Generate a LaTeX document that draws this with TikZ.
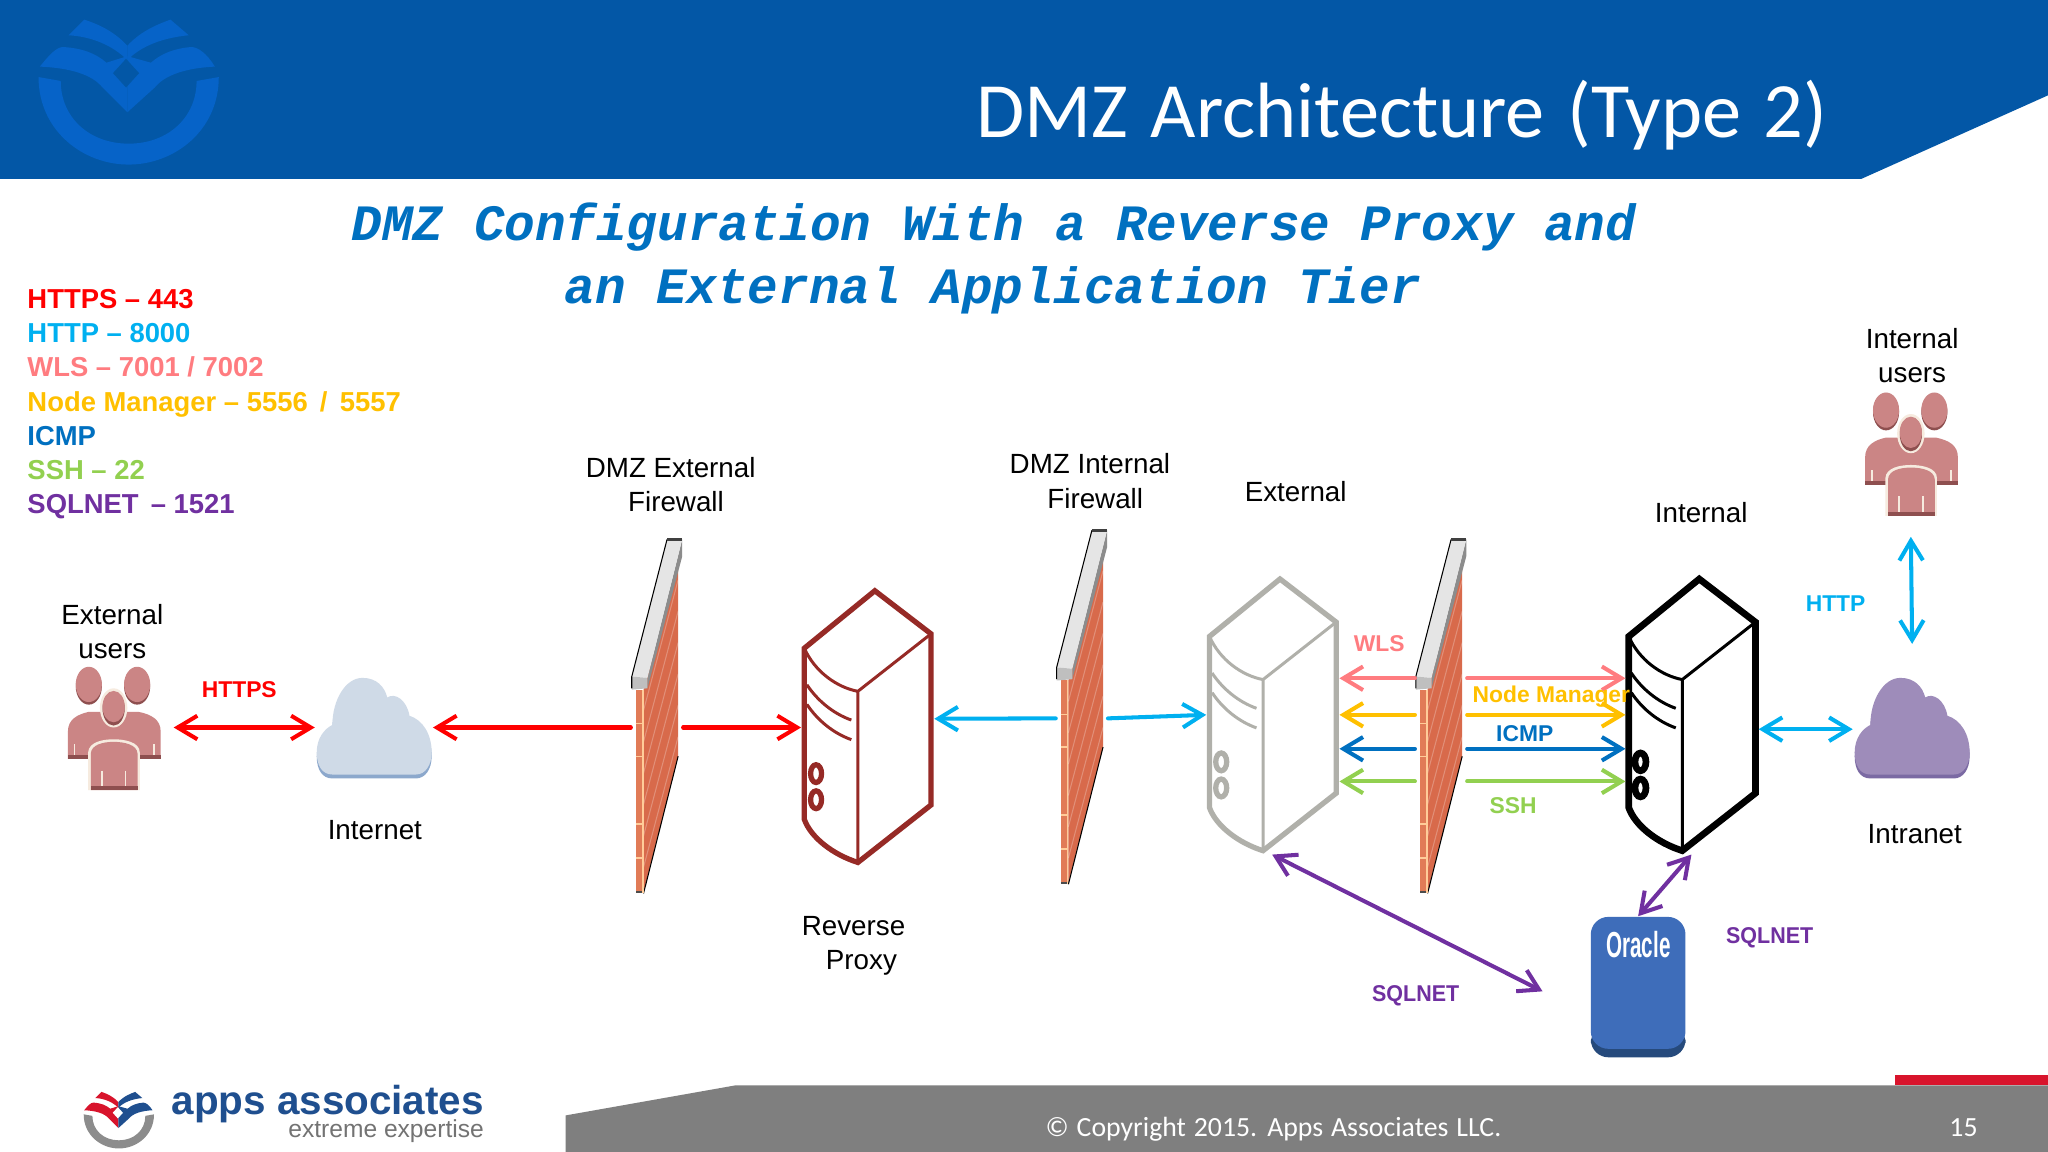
\documentclass[tikz,border=0pt]{standalone}
\usepackage{fontspec}
\setmainfont{Liberation Sans}
\setmonofont{Liberation Mono}
\newfontfamily\slidefont[WordSpace = 1.27]{Carlito}
\usetikzlibrary{arrows.meta}

\definecolor{headblue}{HTML}{0357A6}
\definecolor{markblue}{HTML}{0663C8}
\definecolor{httpsred}{HTML}{FF0000}
\definecolor{httpcyan}{HTML}{00B0F0}
\definecolor{wlspink}{HTML}{FF7C80}
\definecolor{nmgold}{HTML}{FFC000}
\definecolor{icmpblue}{HTML}{0070C0}
\definecolor{sshgreen}{HTML}{92D050}
\definecolor{sqlpurple}{HTML}{7030A0}
\definecolor{footgray}{HTML}{7F7F7F}
\definecolor{brickside}{HTML}{D86A4B}
\definecolor{brickfront}{HTML}{E17B57}
\definecolor{usrskin}{HTML}{CB8585}
\definecolor{usrdark}{HTML}{8E4F4F}
\definecolor{usrgap}{HTML}{F6EBDF}
\definecolor{netfill}{HTML}{CFDAE7}
\definecolor{netedge}{HTML}{8CA8CC}
\definecolor{lanfill}{HTML}{9E8CBA}
\definecolor{lanedge}{HTML}{7B6AA3}
\definecolor{dbfill}{HTML}{3E6DBA}
\definecolor{dbedge}{HTML}{264A7C}
\definecolor{srvred}{HTML}{962A26}
\definecolor{srvgray}{HTML}{B0B0AA}
\definecolor{brandblue}{HTML}{1F4F8F}
\definecolor{brandred}{HTML}{D8142C}

\tikzset{
    lbl/.style = {inner sep = 0, anchor = base, align = center,
        font = \fontsize{7.9}{9.7}\selectfont},
    tag/.style = {inner sep = 0, anchor = base west,
        font = \fontsize{6.5}{8}\selectfont\bfseries},
    legend/.style = {inner sep = 0, anchor = base west,
        font = \fontsize{7.8}{9.7}\selectfont\bfseries},
    link/.style = {line width = 1.15pt, line cap = round,
        {Straight Barb[length = 5.6pt, width = 6.7pt]}-{Straight Barb[length = 5.6pt, width = 6.7pt]}},
    linkin/.style = {line width = 1.15pt, line cap = round,
        -{Straight Barb[length = 5.6pt, width = 6.7pt]}},
    linkout/.style = {line width = 1.15pt, line cap = round,
        {Straight Barb[length = 5.6pt, width = 6.7pt]}-},
    pics/firewall/.style = {code = {
        \fill[brickside] (6, -1) -- (6, -156) -- (32.5, -248) -- (32.5, -105) -- cycle;
        \fill[brickfront] (0, 0) rectangle (6, -156);
        \fill[black!70] (0, 0) rectangle (6, -2);
        \draw[black, line width = .3pt] (6, 0) -- (32.5, -105);
        \foreach \s in {20, 44, ..., 140}
            \draw[white, opacity = .25, line width = .3pt] (6, -\s) -- (32.5, -\s - 100);
        \draw[orange!40, line width = .4pt] (5.5, 0) -- (5.5, -156);
        \foreach \s in {27, 53, 105, 130}
            \draw[orange!40, line width = .4pt] (0, -\s) -- (5.5, -\s);
        \fill[black!45] (9, -157) -- (9, -165) -- (35.6, -271) -- (35.6, -258) -- cycle;
        \fill[black!10] (-3, -166) -- (24, -271) -- (35.6, -271) -- (9, -165) -- cycle;
        \fill[black!25] (-3, -166) -- (9, -165) -- (9, -157) -- (-3, -156) -- cycle;
        \draw[black, line width = .3pt] (-3, -157) -- (-3, -166) -- (24, -271);
        \draw[black!75, line width = .9pt] (24, -271) -- (35.6, -271);
        \coordinate (-l) at (-3.7, -127);
        \coordinate (-r) at (36.3, -127);
    }},
    pics/server/.style 2 args = {code = {
        \draw[#1, line width = #2, line join = miter] (0, 0) -- (54, -44) -- (97, -11)
            -- (97, 120) -- (41, 164) .. controls (22, 158) and (5, 145) .. (0, 131) -- cycle;
        \draw[#1, line width = .85pt] (0, 0) .. controls (8, 18) and (25, 30) .. (41, 33)
            -- (41, 164) (41, 33) -- (97, -11);
        \draw[#1, line width = .85pt] (2, 28) .. controls (10, 40) and (22, 50) .. (36, 55);
        \draw[#1, line width = .85pt] (2, 43) .. controls (10, 55) and (22, 65) .. (36, 70);
        \draw[#1, line width = #2] (9, 96) ellipse (4.2 and 6.8);
        \draw[#1, line width = #2] (9, 116) ellipse (4.2 and 6.8);
        \foreach \n/\y in {1/32, 2/60, 3/86, 4/111, 5/54, 6/71} {
            \coordinate (-e\n) at (99.5, \y);
            \coordinate (-w\n) at (-2.5, \y);
        }
        \coordinate (-b) at (48, 167);
    }},
    pics/cloud/.style 2 args = {code = {
        \foreach \c/\d in {#2/0, #1/-3}
            \fill[\c] (12, \d) .. controls (4, \d) and (0, -7 + \d) .. (0, -17 + \d)
                .. controls (0, -28 + \d) and (6, -35 + \d) .. (12, -38 + \d)
                .. controls (12, -57 + \d) and (22, -74 + \d) .. (35, -74 + \d)
                .. controls (46, -74 + \d) and (52, -67 + \d) .. (54, -59 + \d)
                .. controls (60, -63 + \d) and (69, -57 + \d) .. (71, -45 + \d)
                .. controls (81, -42 + \d) and (88, -31 + \d) .. (88, -17 + \d)
                .. controls (88, -7 + \d) and (83, \d) .. (76, \d) -- cycle;
        \coordinate (-w) at (-1.5, -39);
        \coordinate (-e) at (89, -39);
        \coordinate (-n) at (44, -103);
    }},
    pics/usergroup/.style = {code = {
        %% back row
        \fill[usrskin] (1, 71) -- (1, 50) .. controls (1, 41) and (8, 37) .. (17, 35) -- (55, 35)
            .. controls (65, 37) and (72, 41) .. (72, 50) -- (72, 71) -- cycle;
        \fill[usrdark] (1, 68) rectangle (72, 71);
        \foreach \x in {17, 54} {
            \fill[usrdark] (\x, 15.5) ellipse (10 and 14);
            \fill[usrskin] (\x, 14) ellipse (10 and 13.5);
        }
        %% front person
        \fill[usrgap] (36, 32) ellipse (10.5 and 15);
        \fill[usrdark] (36, 32.5) ellipse (8.5 and 13);
        \fill[usrskin] (36, 31) ellipse (8.5 and 12);
        \fill[usrgap] (16.5, 95) -- (16.5, 66) .. controls (17, 58) and (28, 56) .. (36, 56)
            .. controls (44, 56) and (56, 58) .. (56, 66) -- (56, 95) -- cycle;
        \fill[usrskin] (18.5, 95) -- (18.5, 67) .. controls (19, 60) and (28, 58) .. (36, 58)
            .. controls (44, 58) and (54, 60) .. (54.3, 67) -- (54.3, 95) -- cycle;
        \fill[usrdark] (18.5, 92) rectangle (54.3, 95);
        \draw[usrgap, line width = .5pt] (27, 80) -- (27, 92) (45, 80) -- (45, 92)
            (6, 60) -- (6, 68) (67, 60) -- (67, 68);
        \coordinate (-e) at (82, 47);
        \coordinate (-s) at (36, 111);
    }},
    pics/logomark/.style n args = {4}{code = {
        \fill[#3] (-69, 44) .. controls (-69, 85) and (-35, 111) .. (0, 111)
            .. controls (35, 111) and (69, 85) .. (69, 44) -- (52, 47)
            .. controls (52, 75) and (30, 95) .. (0, 95)
            .. controls (-30, 95) and (-52, 75) .. (-52, 47) -- cycle;
        \fill[#1] (-68, 36) .. controls (-60, 26) and (-55, 21) .. (-50, 21)
            .. controls (-35, 22) and (-25, 26) .. (-17, 33) -- (-1, 28) -- (-1, 71) -- (-20, 52)
            .. controls (-28, 42) and (-45, 37) .. (-68, 36) -- cycle;
        \fill[#2] (66, 36) .. controls (60, 26) and (53, 21) .. (48, 21)
            .. controls (35, 22) and (25, 26) .. (17, 33) -- (-1, 28) -- (-1, 71) -- (20, 52)
            .. controls (28, 42) and (45, 37) .. (66, 36) -- cycle;
        \fill[#1] (-46, 12) -- (-34, 0) .. controls (-25, 3) and (-12, 8) .. (-1, 20)
            -- (-1, 31) .. controls (-12, 20) and (-28, 13) .. (-46, 12) -- cycle;
        \fill[#2] (46, 12) -- (32, 0) .. controls (24, 3) and (10, 8) .. (-1, 20)
            -- (-1, 31) .. controls (10, 20) and (26, 14) .. (46, 12) -- cycle;
        \fill[#4] (-2, 30) -- (8, 41) -- (-2, 52) -- (-12, 41) -- cycle;
    }},
}

\begin{document}
\begin{tikzpicture}[x = 0.013061cm, y = -0.013061cm]
    \useasboundingbox (0, 0) rectangle (1568, 882);
    \fill[white] (0, 0) rectangle (1568, 882);

    %% header
    \fill[headblue] (0, 0) -- (1568, 0) -- (1568, 73) -- (1425, 137) -- (0, 137) -- cycle;
    \pic at (98.5, 15) {logomark={markblue}{markblue}{markblue}{headblue}};
    \node (title) [inner sep = 0, anchor = base west, text = white,
        font = \slidefont\fontsize{22.3}{28}\selectfont] at (747, 105) {DMZ Architecture (Type 2)};

    %% subtitle
    \node (subA) [inner sep = 0, anchor = base, text = icmpblue,
        font = \ttfamily\bfseries\itshape\fontsize{14.5}{17}\selectfont] at (761, 184)
        {DMZ Configuration With a Reverse Proxy and};
    \node (subB) [inner sep = 0, anchor = base, text = icmpblue,
        font = \ttfamily\bfseries\itshape\fontsize{14.5}{17}\selectfont] at (760, 232)
        {an External Application Tier};

    %% legend
    \node (legA) [legend, text = httpsred] at (20.5, 236) {HTTPS – 443};
    \node (legB) [legend, text = httpcyan] at (20.5, 262) {HTTP – 8000};
    \node (legC) [legend, text = wlspink] at (20.5, 288) {WLS – 7001 / 7002};
    \node (legD) [legend, text = nmgold] at (20.5, 315) {Node Manager – 5556 \,/\, 5557};
    \node (legE) [legend, text = icmpblue] at (20.5, 341) {ICMP};
    \node (legF) [legend, text = sshgreen] at (20.5, 367) {SSH – 22};
    \node (legG) [legend, text = sqlpurple] at (20.5, 393) {SQLNET \,– 1521};

    %% icons
    \pic (extusers) at (51, 510) {usergroup};
    \pic (intusers) at (1427, 300) {usergroup};
    \pic (internet) at (242.5, 596) {cloud={netfill}{netedge}};
    \pic (intranet) at (1420, 596) {cloud={lanfill}{lanedge}};
    \pic (fwA) at (486.7, 684) {firewall};
    \pic (fwB) at (812, 677) {firewall};
    \pic (fwC) at (1087, 684) {firewall};
    \pic (srvA) at (615.8, 496.3) {server={srvred}{1.5pt}};
    \pic (srvB) at (926, 487.3) {server={srvgray}{1.5pt}};
    \pic (srvC) at (1247, 487.3) {server={black}{1.9pt}};

    %% database
    \fill[dbedge, rounded corners = 5pt] (1218, 785) rectangle (1290.5, 809.5);
    \node (oracle) [fill = dbfill, rounded corners = 5pt, inner sep = 0,
        minimum width = 72.5 * 0.013061cm, minimum height = 101 * 0.013061cm] at (1254.2, 752.5) {};
    \node (oracleTxt) [inner sep = 0, anchor = base, text = white,
        font = \fontsize{10.3}{12}\selectfont\bfseries] at (1254.5, 733) {\scalebox{.57}[1]{Oracle}};

    %% connectors
    \draw[link, httpsred] (extusers-e) -- (internet-w);
    \draw[linkout, httpsred] (internet-e) -- (fwA-l);
    \draw[linkin, httpsred] (fwA-r) -- (fwA-r -| srvA-w2);
    \draw[linkout, httpcyan] (srvA-e5) -- (fwB-l);
    \draw[linkin, httpcyan] (fwB-r) -- (srvB-w2);
    \foreach \n/\col in {1/wlspink, 2/nmgold, 3/icmpblue, 4/sshgreen} {
        \draw[linkout, \col] (srvB-e\n) -- (srvB-e\n -| fwC-l);
        \draw[linkin, \col] (srvB-e\n -| fwC-r) -- (srvC-w\n);
    }
    \draw[link, httpcyan] (srvC-e6) -- (srvC-e6 -| intranet-w);
    \draw[link, httpcyan] (intusers-s) -- (intranet-n);
    \coordinate (sqlEnd) at (1181, 759);
    \draw[link, sqlpurple] (srvB-b) -- (sqlEnd);
    \draw[link, sqlpurple] (oracle.north) -- (srvC-b);

    %% labels
    \node (lblExt) [lbl] at (86, 504) {External\\users};
    \node (lblNet) [lbl] at (287, 643) {Internet};
    \node (lblFwA) [lbl] at (513.5, 392) {DMZ External\\\hspace*{3pt}Firewall};
    \node (lblFwB) [lbl] at (834.5, 389) {DMZ Internal\\\hspace*{3pt}Firewall};
    \node (lblProxy) [lbl] at (653.5, 742) {Reverse\\\hspace*{4.5pt}Proxy};
    \node (lblSrvB) [lbl] at (992, 384) {External};
    \node (lblSrvC) [lbl] at (1302.5, 400) {Internal};
    \node (lblInt) [lbl] at (1464, 293) {Internal\\users};
    \node (lblIntra) [lbl] at (1466, 646) {Intranet};

    \node (tagHttps) [tag, text = httpsred] at (154, 534) {HTTPS};
    \node (tagHttp) [tag, text = httpcyan] at (1382, 468) {HTTP};
    \node (tagWls) [tag, text = wlspink] at (1036, 499) {WLS};
    \node (tagNm) [tag, text = nmgold] at (1127, 538) {Node Manager};
    \node (tagIcmp) [tag, text = icmpblue] at (1145, 568) {ICMP};
    \node (tagSsh) [tag, text = sshgreen] at (1140, 623) {SSH};
    \node (tagSqlA) [tag, text = sqlpurple] at (1050, 767) {\scalebox{.94}[1]{SQLNET}};
    \node (tagSqlB) [tag, text = sqlpurple] at (1321, 722) {\scalebox{.94}[1]{SQLNET}};

    %% footer
    \fill[footgray] (433, 854) -- (563, 831) -- (1568, 831) -- (1568, 882) -- (433, 882) -- cycle;
    \fill[brandred] (1451, 823) rectangle (1568, 831);
    \node (copy) [inner sep = 0, anchor = base west, text = white,
        font = \slidefont\fontsize{7.9}{9}\selectfont] at (800, 870) {© Copyright 2015. Apps Associates LLC.};
    \node (page) [inner sep = 0, anchor = base west, text = white,
        font = \slidefont\fontsize{7.9}{9}\selectfont] at (1492, 870) {15};

    %% company logo
    \pic[scale = .39] at (91, 836) {logomark={brandred}{brandblue}{black!45}{white}};
    \node (brand) [inner sep = 0, anchor = base east, text = brandblue,
        font = \fontsize{11.5}{14}\selectfont\bfseries] at (371, 853) {apps associates};
    \node (motto) [inner sep = 0, anchor = base east, text = black!55,
        font = \fontsize{7}{9}\selectfont] at (371, 871) {extreme expertise};
\end{tikzpicture}
\end{document}
